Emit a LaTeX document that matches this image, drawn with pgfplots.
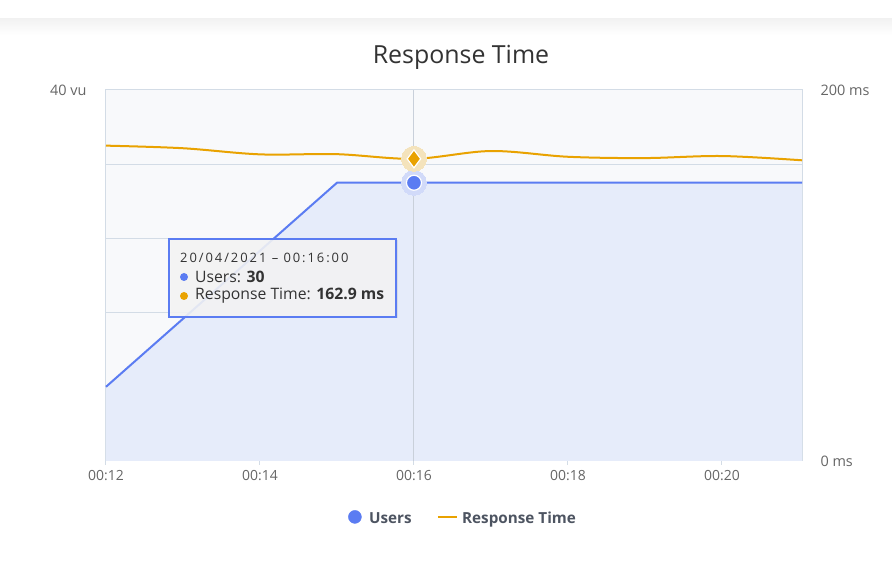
\documentclass[border=0pt]{standalone}
\usepackage{fontspec}
\setmainfont{Open Sans}
\usepackage{pgfplots}
\pgfplotsset{compat=1.18}
\usetikzlibrary{shadows}
\definecolor{ublue}{HTML}{5B7CF2}
\definecolor{ufill}{HTML}{E6ECFA}
\definecolor{plotbg}{HTML}{F8F9FB}
\definecolor{rorange}{HTML}{E9A200}
\definecolor{gridc}{HTML}{D3DCE6}
\definecolor{crossc}{HTML}{C9D0DA}
\definecolor{ticktext}{HTML}{666666}
\definecolor{titlec}{HTML}{333333}
\definecolor{legc}{HTML}{4D5461}
\colorlet{bhalo}{ublue!25!plotbg}
\colorlet{ohalo}{rorange!25!plotbg}
\begin{document}
\begin{tikzpicture}[x=1bp,y=1bp]
\path[use as bounding box] (-106,-111) rectangle (786,461);
\fill[white] (-106,-111) rectangle (786,461);
\shade[top color=black!5, bottom color=white] (-106,442) rectangle (786,426);
\begin{axis}[
  at={(0,0)}, anchor=south west, scale only axis,
  width=696bp, height=371bp,
  xmin=12, xmax=21.04, ymin=0, ymax=40,
  axis background/.style={fill=plotbg},
  axis line style={draw=gridc, line width=1bp},
  xtick={12,14,16,18,20},
  xticklabels={00:12,00:14,00:16,00:18,00:20},
  ytick={0,8,16,24,32,40},
  yticklabels={,,,,,40 vu},
  xtick pos=bottom, ytick pos=left,
  tick align=outside, major tick length=4bp,
  x tick style={draw=gridc, line width=1bp},
  y tick style={draw=none},
  ymajorgrids, major grid style={draw=gridc, line width=1bp},
  /pgf/number format/assume math mode=true,
  tick label style={font=\fontsize{14}{16}\selectfont, text=ticktext},
  yticklabel style={xshift=-12bp, font=\fontsize{14.5}{16}\selectfont},
  xticklabel style={yshift=-2bp},
  legend style={at={(0.513,-0.1564)}, anchor=center, draw=none, fill=none,
    legend columns=2, font=\fontsize{15.3}{17}\selectfont\bfseries, text=legc,
    nodes={text height=0.75em, text depth=0.25em},
    /tikz/every even column/.append style={column sep=23bp}},
  clip=false,
]
\addplot[fill=ufill, draw=none, forget plot] coordinates {(12,8) (15,30) (21.04,30)} \closedcycle;
\addplot[crossc, line width=1bp, forget plot] coordinates {(16,0) (16,40)};
\addplot[ublue, line width=2bp, forget plot] coordinates {(12,8) (15,30) (21.04,30)};
\addplot[only marks, color=bhalo, mark=*, mark size=12.5bp, mark options={fill=bhalo, draw=bhalo, line width=0pt}, forget plot] coordinates {(16,30)};
\addplot[only marks, color=ublue, mark=*, mark size=7.5bp, mark options={fill=ublue, draw=white, line width=1.2bp}, forget plot] coordinates {(16,30)};
\addlegendimage{legend image code/.code={\fill[ublue] (0,4bp) circle (6.5bp); \path (12bp,4bp);}}
\addlegendentry{Users}
\addlegendimage{legend image code/.code={\draw[rorange, line width=2.5bp] (0,4bp) -- (19bp,4bp); \path (22bp,4bp);}}
\addlegendentry{Response Time}
\end{axis}
\begin{axis}[
  at={(0,0)}, anchor=south west, scale only axis,
  width=696bp, height=371bp,
  xmin=12, xmax=21.04, ymin=0, ymax=200,
  axis x line=none, axis y line*=right,
  y axis line style={draw=none},
  ytick={0,200}, yticklabels={0 ms,200 ms},
  y tick style={draw=none},
  /pgf/number format/assume math mode=true,
  tick label style={font=\fontsize{14.5}{16}\selectfont, text=ticktext},
  yticklabel style={xshift=15bp},
  clip=false,
]
\addplot[rorange, line width=2bp, smooth, tension=0.55] coordinates {
(12,170.0) (13,168.6) (14,165.3) (15,165.4) (16,162.9) (17,167.1) (18,164.0) (19,163.3) (20,164.4) (21.04,162.1)};
\addplot[only marks, color=ohalo, mark=*, mark size=12.5bp, mark options={fill=ohalo, draw=ohalo, line width=0pt}] coordinates {(16,162.9)};
\addplot[only marks, color=rorange, mark=diamond*, mark size=9bp, mark options={fill=rorange, draw=white, line width=1.2bp}] coordinates {(16,162.9)};
\end{axis}
\node[text=titlec, font=\fontsize{25}{28}\selectfont] at (355,404) {Response Time};
\filldraw[draw=ublue, line width=1.3bp, fill=black!4, fill opacity=0.88, drop shadow={opacity=0.15, shadow xshift=1.5bp, shadow yshift=-1.5bp}] (63,144) rectangle (290,222);
\node[anchor=base west, text=titlec, font=\fontsize{13}{15}\selectfont\addfontfeature{LetterSpace=15}, inner sep=0] at (74,198) {20/04/2021 – 00:16:00};
\fill[ublue] (78,184) circle (4bp);
\node[anchor=west, text=titlec, font=\fontsize{15.8}{18}\selectfont, inner sep=0] at (89,184) {Users: \textbf{30}};
\fill[rorange] (78,165) circle (4bp);
\node[anchor=west, text=titlec, font=\fontsize{15.8}{18}\selectfont, inner sep=0] at (89,165) {Response Time: \textbf{162.9 ms}};
\end{tikzpicture}
\end{document}
